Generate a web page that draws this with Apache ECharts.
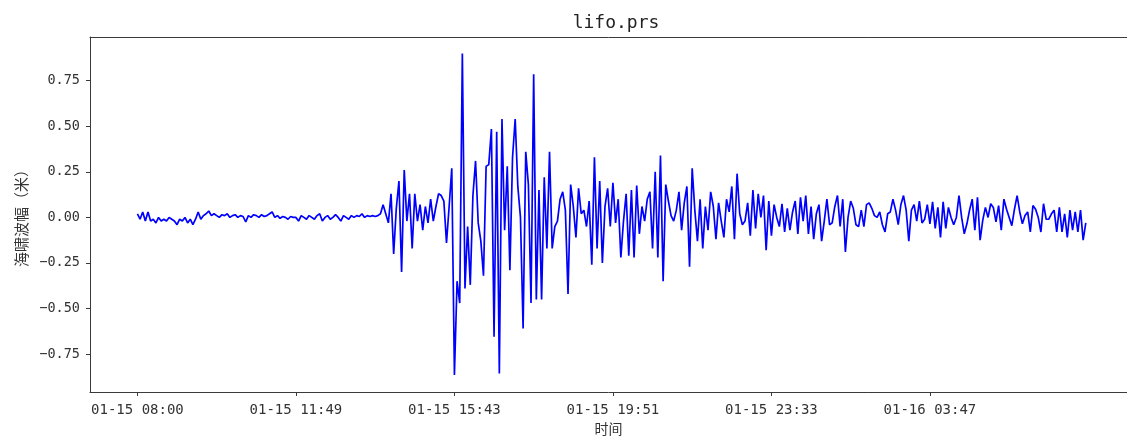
<!DOCTYPE html>
<html>
<head>
<meta charset="utf-8">
<script src="https://cdn.jsdelivr.net/npm/echarts@6/dist/echarts.min.js"></script>
<style>
html,body{margin:0;padding:0;background:#fff;}
#chart{width:1127px;height:437px;}
</style>
</head>
<body>
<div id="chart"></div>
<script>
// ---- data ----
const chartTitle = 'lifo.prs';
const yName = '海啸波幅（米）';
const xName = '时间';
const timeLabels = ['01-15 08:00', '01-15 11:49', '01-15 15:43', '01-15 19:51', '01-15 23:33', '01-16 03:47'];
const pointsPerLabel = 60;
const yTicks = [-0.75, -0.5, -0.25, 0, 0.25, 0.5, 0.75];

const seg1 = [0.02,-0.01,0.03,-0.02,0.03,
  -0.02,-0.01,-0.03,0.0,-0.02,-0.01,-0.02,0.0,-0.01,-0.02,
  -0.04,-0.01,-0.02,0.0,-0.03,-0.01,-0.04,-0.01,
  0.03,-0.01,0.01,0.02,0.035,
  0.01,0.02,0.01,0.0,0.015,0.01,0.02,0.0,0.01,0.015,0.0,0.01,0.005,
  -0.025,0.01,0.0,0.015,
  0.01,0.0,0.015,0.005,0.01,0.02,0.03,0.0,0.01,
  -0.005,0.005,0.0,-0.01,0.005,0.0];
const seg2 = [0.00,-0.02,0.01,0.00,-0.01,0.01,0.00,-0.01,0.01,0.02,
  -0.02,0.00,0.01,-0.01,0.00,0.015,0.00,-0.02,0.01,0.00,
  -0.01,0.01,0.00,0.01,0.005,0.02,0.00,0.01,0.005,0.01,0.005,0.01,
  0.02,0.07,0.02,-0.03,0.13,-0.20,0.05,0.20,-0.30,0.26,
  -0.02,0.13,-0.17,0.13,-0.02,0.07,-0.07,0.06,-0.03,0.10,
  -0.02,0.06,0.13,0.12,0.09,-0.14,0.06,0.27];
const seg3 = [-0.865,-0.35,-0.47,0.90,-0.39,-0.05,-0.37,0.12,0.31,-0.03,
  -0.13,-0.32,0.28,0.29,0.485,-0.655,0.47,-0.856,0.54,-0.07,
  0.28,-0.29,0.33,0.54,0.17,0.0,-0.61,0.36,0.18,-0.47,
  0.785,-0.45,0.15,-0.45,0.22,-0.17,0.36,-0.17,-0.05,-0.02,
  0.10,0.14,0.04,-0.42,0.18,0.06,-0.11,0.16,0.02,0.04,
  -0.05,0.09,-0.26,0.33,-0.17,0.20,-0.25,0.06,0.16,-0.05];
const seg4 = [0.19,-0.03,0.10,-0.22,-0.02,0.13,-0.21,0.15,-0.22,0.175,
  -0.09,0.06,-0.02,0.10,0.14,-0.17,0.25,-0.22,0.34,-0.35,
  0.18,0.09,0.01,-0.02,0.04,0.14,-0.07,0.08,0.17,-0.27,
  0.27,0.04,-0.13,0.10,-0.17,0.06,-0.07,0.14,0.06,-0.12,
  0.08,-0.02,-0.11,0.10,0.03,0.17,-0.12,0.24,0.02,-0.04,
  -0.02,0.08,-0.10,0.15,-0.06,0.13,0.0,0.12,-0.18,0.09];
const seg5 = [-0.10,0.07,0.0,-0.05,0.075,-0.08,0.05,-0.07,0.03,0.09,
  -0.09,0.11,-0.02,0.12,-0.09,0.06,-0.12,0.02,0.07,-0.13,
  -0.02,0.10,-0.04,-0.03,0.06,0.12,-0.05,0.10,-0.19,0.0,
  0.09,0.05,-0.04,-0.05,0.04,-0.05,0.07,0.08,0.05,0.01,
  0.0,0.03,-0.04,-0.08,0.02,0.03,0.10,0.04,-0.04,0.07,
  0.12,0.04,-0.13,0.04,0.07,-0.02,0.09,-0.03,-0.01,0.07];
const seg6 = [-0.035,0.085,-0.06,0.055,-0.11,0.085,-0.06,0.055,0.0,-0.04,
  0.0,0.12,0.0,-0.09,-0.035,0.04,0.10,-0.07,0.11,-0.125,
  -0.015,0.055,0.0,0.075,0.055,-0.025,0.065,-0.07,0.10,0.045,
  0.0,-0.045,0.045,0.12,0.03,-0.035,0.01,0.03,-0.08,0.065,
  0.045,0.0,-0.08,0.075,-0.01,-0.01,0.02,0.04,-0.08,0.055,
  -0.08,0.02,-0.11,0.04,-0.07,0.03,-0.08,0.04,-0.125,-0.03];

// ---- build ----
const values = [].concat(seg1, seg2, seg3, seg4, seg5, seg6);
const n = values.length;
const seriesData = values.map((v, i) => [i, v]);
const tickPos = timeLabels.map((_, k) => k * pointsPerLabel);
const xMin = -0.05 * (n - 1);
const xMax = 374.6;   // visible part of the axis (the figure is cropped on the right)

const FONT = "'DejaVu Sans Mono', 'Noto Sans CJK SC', monospace";
const CJK = "'Noto Sans CJK SC', sans-serif";
const AX = '#3a3a3a';

const chart = echarts.init(document.getElementById('chart'), null, {renderer: 'canvas'});
chart.setOption({
  animation: false,
  backgroundColor: '#ffffff',
  title: {
    text: chartTitle,
    left: 611, top: 9,
    textAlign: 'center',
    textStyle: {fontFamily: FONT, fontSize: 18, fontWeight: 'normal', color: '#222'}
  },
  grid: {left: 90, top: 37, right: 0, bottom: 45, show: false, outerBoundsMode: 'none', containLabel: false},
  xAxis: [{
    type: 'value',
    min: xMin, max: xMax,
    name: xName, nameLocation: 'middle', nameGap: 30,
    nameTextStyle: {fontFamily: CJK, fontSize: 14, color: '#333'},
    axisLine: {show: true, onZero: false, lineStyle: {color: AX, width: 1}},
    axisTick: {show: true, inside: false, length: 4, customValues: tickPos, lineStyle: {color: AX}},
    axisLabel: {
      customValues: tickPos, margin: 11,
      fontFamily: FONT, fontSize: 14, color: '#333',
      formatter: v => timeLabels[Math.round(v / pointsPerLabel)] || ''
    },
    splitLine: {show: false}
  }, {
    type: 'value', position: 'top',
    min: xMin, max: xMax,
    axisLine: {show: true, onZero: false, lineStyle: {color: AX, width: 1}},
    axisTick: {show: false}, axisLabel: {show: false}, splitLine: {show: false}
  }],
  yAxis: {
    type: 'value',
    min: -0.958, max: 0.99,
    name: yName, nameLocation: 'middle', nameGap: 55, nameRotate: 90,
    nameTextStyle: {fontFamily: CJK, fontSize: 15, color: '#333'},
    axisLine: {show: true, onZero: false, lineStyle: {color: AX, width: 1}},
    axisTick: {show: true, inside: false, length: 4, customValues: yTicks, lineStyle: {color: AX}},
    axisLabel: {
      customValues: yTicks, margin: 10,
      fontFamily: FONT, fontSize: 13.5, color: '#333',
      formatter: v => (v < 0 ? '\u2212' : '') + Math.abs(v).toFixed(2)
    },
    splitLine: {show: false}
  },
  series: [{
    type: 'line',
    xAxisIndex: 0,
    data: seriesData,
    showSymbol: false,
    smooth: false,
    lineStyle: {color: '#0000ff', width: 1.7},
    itemStyle: {color: '#0000ff'}
  }]
});
</script>
</body>
</html>
